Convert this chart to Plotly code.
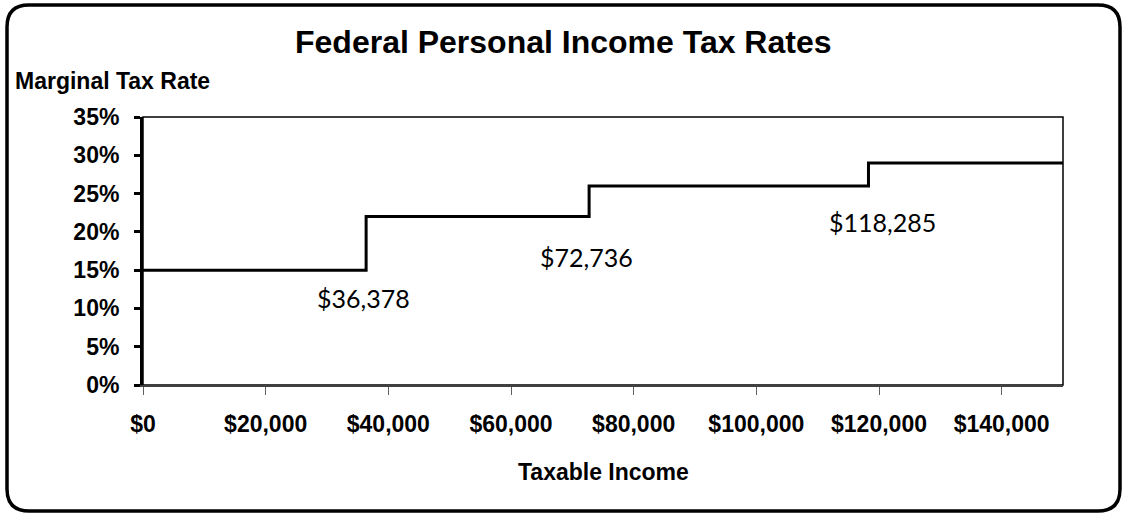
import plotly.graph_objects as go

# Data
breakpoints = [0, 36378, 72736, 118285, 150000]
rates = [0.15, 0.22, 0.26, 0.29, 0.29]
bracket_labels = ["$36,378", "$72,736", "$118,285"]
x_ticks = [0, 20000, 40000, 60000, 80000, 100000, 120000, 140000]
x_tick_text = ["$0", "$20,000", "$40,000", "$60,000", "$80,000", "$100,000", "$120,000", "$140,000"]
y_ticks = [0, 0.05, 0.10, 0.15, 0.20, 0.25, 0.30, 0.35]
y_tick_text = ["0%", "5%", "10%", "15%", "20%", "25%", "30%", "35%"]

W, H = 1126, 514
L, T, PW, PH = 143, 117, 920, 268
R = W - L - PW
B = H - T - PH

def px(x):
    return (x - L) / PW

def py(y):
    return (T + PH - y) / PH

AR = "Liberation Sans, Arial, sans-serif"

fig = go.Figure()
fig.add_trace(go.Scatter(
    x=breakpoints, y=rates, mode="lines", line_shape="hv",
    line=dict(color="black", width=3), showlegend=False, hoverinfo="skip"))

# Rounded outer border
x0, y0, x1, y1, r = 7, 5, 1120, 511, 22
path = (f"M {px(x0 + r)},{py(y0)} L {px(x1 - r)},{py(y0)} Q {px(x1)},{py(y0)} {px(x1)},{py(y0 + r)} "
        f"L {px(x1)},{py(y1 - r)} Q {px(x1)},{py(y1)} {px(x1 - r)},{py(y1)} "
        f"L {px(x0 + r)},{py(y1)} Q {px(x0)},{py(y1)} {px(x0)},{py(y1 - r)} "
        f"L {px(x0)},{py(y0 + r)} Q {px(x0)},{py(y0)} {px(x0 + r)},{py(y0)} Z")
shapes = [
    dict(type="path", path=path, xref="paper", yref="paper", line=dict(color="black", width=3.5), layer="above"),
    dict(type="rect", x0=0, y0=0, x1=1, y1=1, xref="paper", yref="paper", line=dict(color="black", width=1.5), layer="below"),
]

annotations = [
    dict(text="<b>Federal Personal Income Tax Rates</b>", x=px(563), y=py(42), xref="paper", yref="paper",
         showarrow=False, font=dict(family=AR, size=32, color="black"), xanchor="center", yanchor="middle"),
    dict(text="<b>Marginal Tax Rate</b>", x=px(13), y=py(81), xref="paper", yref="paper",
         showarrow=False, font=dict(family=AR, size=23, color="black"), xanchor="left", yanchor="middle"),
    dict(text="<b>Taxable Income</b>", x=px(603), y=py(472), xref="paper", yref="paper",
         showarrow=False, font=dict(family=AR, size=23, color="black"), xanchor="center", yanchor="middle"),
]
label_pos = [(0.1136, -3), (0.167, -3), (0.213, 14)]
for bp, lab, (yy, xs) in zip(breakpoints[1:4], bracket_labels, label_pos):
    annotations.append(dict(text=lab, x=bp, y=yy, xref="x", yref="y", xshift=xs, showarrow=False,
                            font=dict(family="Lato, Carlito, sans-serif", size=25, color="black"),
                            xanchor="center", yanchor="middle"))

fig.update_layout(
    width=W, height=H, margin=dict(l=L, r=R, t=T, b=B, pad=0),
    paper_bgcolor="white", plot_bgcolor="white",
    shapes=shapes, annotations=annotations,
    xaxis=dict(range=[0, 150000], tickvals=x_ticks, ticktext=x_tick_text, showgrid=False, zeroline=False,
               showline=True, linecolor="#404040", linewidth=1.5, ticks="outside", ticklen=8, tickwidth=1,
               tickcolor="#606060", ticklabelstandoff=10,
               tickfont=dict(family=AR, size=23, color="black", weight="bold")),
    yaxis=dict(range=[0, 0.35], tickvals=y_ticks, ticktext=y_tick_text, showgrid=False, zeroline=False,
               showline=True, linecolor="black", linewidth=3, ticks="outside", ticklen=6, tickwidth=3,
               tickcolor="black", ticklabelstandoff=10,
               tickfont=dict(family=AR, size=23, color="black", weight="bold")),
)

fig.write_html("out.html", config={"displayModeBar": False},
               post_script="document.body.style.margin='0';document.body.style.overflow='hidden';")
